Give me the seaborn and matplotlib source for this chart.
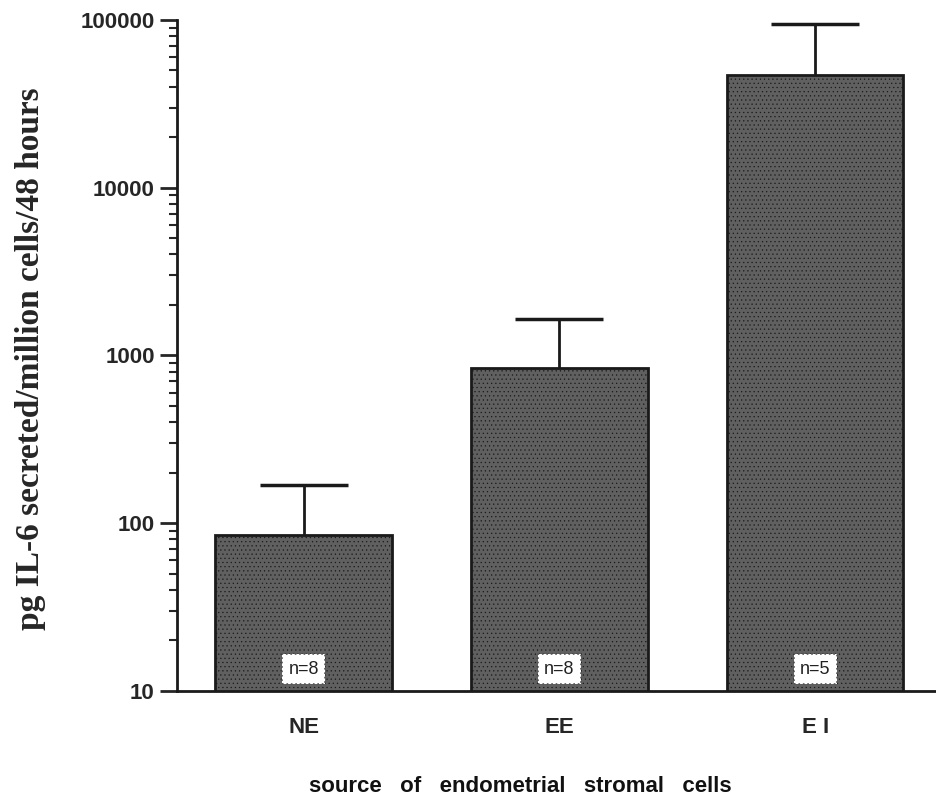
import matplotlib
matplotlib.use("Agg")
import matplotlib.pyplot as plt
import seaborn as sns
import pandas as pd
import numpy as np

categories = ["NE", "EE", "EI"]
tick_labels = ["NE", "EE", "E I"]
means = [85, 840, 47000]
upper_err = [84, 805, 47500]
n_labels = ["n=8", "n=8", "n=5"]

sns.set_theme(style="white")
plt.rcParams['font.family'] = ['Liberation Sans', 'DejaVu Sans']
plt.rcParams['hatch.color'] = '#8a8a8a'
plt.rcParams['hatch.linewidth'] = 0.4

df = pd.DataFrame({"source": categories, "value": means})

fig = plt.figure(figsize=(9.37, 7.99), dpi=100)
ax = fig.add_axes([0.189, 0.1355, 0.811, 0.8395])

sns.barplot(data=df, x="source", y="value", ax=ax, color="#606060",
            saturation=1, width=0.69, edgecolor="#1a1a1a", linewidth=2, errorbar=None)
ax.set_yscale("log")
for p in ax.patches:
    p.set_hatch("....")
    p.set_edgecolor("#1a1a1a")

xpos = np.arange(len(categories))
eb = ax.errorbar(xpos, means, yerr=[np.zeros(len(means)), upper_err], fmt="none",
                 ecolor="#1a1a1a", elinewidth=2, capsize=32, capthick=2.5, zorder=1)
# hide the lower caps (only upper error shown)
caplines = eb[1]
if len(caplines) >= 2:
    caplines[0].set_visible(False)

ax.set_ylim(10, 100000)
ax.set_xlim(-0.495, 2.476)
ax.set_yticks([10, 100, 1000, 10000, 100000])
ax.set_yticklabels(["10", "100", "1000", "10000", "100000"], fontsize=16, fontweight="bold")
ax.set_xticks(xpos)
ax.set_xticklabels(tick_labels, fontsize=16, fontweight="bold")
ax.tick_params(axis="x", length=0, pad=19)
ax.tick_params(axis="y", which="major", length=12, width=2, direction="out", left=True, pad=4)
ax.tick_params(axis="y", which="minor", length=6, width=1.5, direction="out", left=True)
ax.yaxis.set_minor_locator(matplotlib.ticker.LogLocator(base=10, subs=np.arange(2, 10)))

for s in ["top", "right"]:
    ax.spines[s].set_visible(False)
for s in ["left", "bottom"]:
    ax.spines[s].set_linewidth(2)
    ax.spines[s].set_color("#1a1a1a")

trans = matplotlib.transforms.blended_transform_factory(ax.transData, ax.transAxes)
for x, lab in zip(xpos, n_labels):
    ax.text(x, 0.032, lab, transform=trans, ha="center", va="center", fontsize=13,
            color="#222222",
            bbox=dict(boxstyle="square,pad=0.35", facecolor="white", edgecolor="#555555",
                      linewidth=1.2, linestyle=":"))

ax.set_xlabel("")
fig.text(0.555, 0.016, "source   of   endometrial   stromal   cells", ha="center", va="center",
         fontsize=16, fontweight="bold", color="#111111")
ax.set_ylabel("pg IL-6 secreted/million cells/48 hours", fontsize=24, fontweight="bold",
              family=["Liberation Serif", "DejaVu Serif"])
ax.yaxis.set_label_coords(-0.172, 0.495)

fig.savefig("out.png", dpi=100)
